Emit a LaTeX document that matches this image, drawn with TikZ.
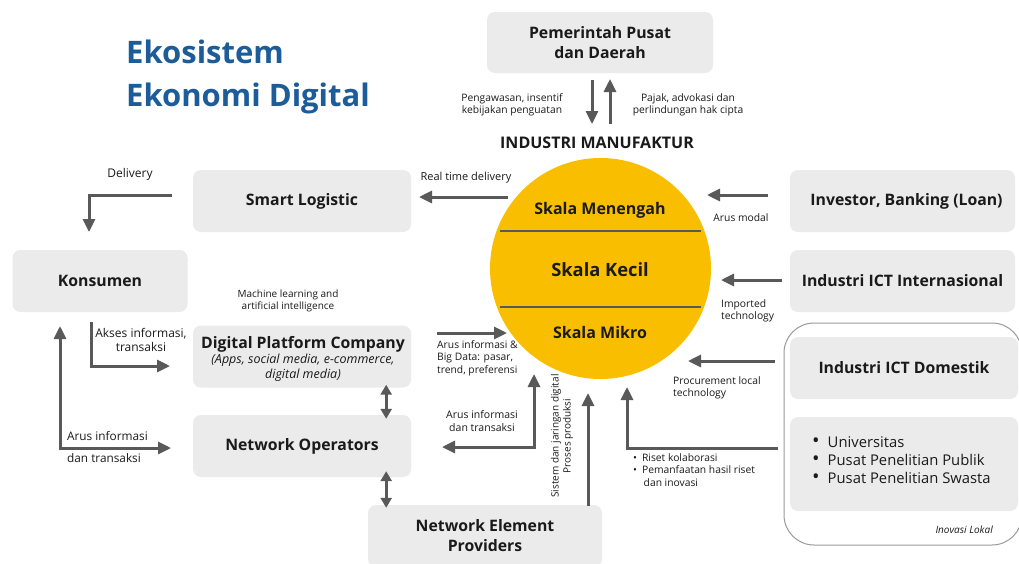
\documentclass[tikz,border=0pt]{standalone}
\usepackage{fontspec}
\setmainfont{Open Sans}
\usetikzlibrary{arrows.meta}
\definecolor{boxc}{HTML}{EBEBEB}
\definecolor{arrc}{HTML}{595959}
\definecolor{gold}{HTML}{F9BE00}
\definecolor{titlec}{HTML}{1B5C99}
\definecolor{txt}{HTML}{1A1A1A}
\definecolor{outl}{HTML}{9A9A9A}
\newcommand{\btxt}{\fontsize{15.8}{20}\selectfont\bfseries}
\newcommand{\stxt}{\fontsize{10.3}{12.5}\selectfont}
\begin{document}
\begin{tikzpicture}[x=1pt,y=-1pt,
  box/.style={fill=boxc, rounded corners=8pt, inner sep=0pt, align=center, font=\btxt, text=txt},
  lbl/.style={font=\stxt, text=txt, inner sep=0pt, align=center},
  arr/.style={draw=arrc, line width=3pt, -{Triangle[length=13pt,width=12pt]}},
  darr/.style={draw=arrc, line width=3pt, {Triangle[length=10pt,width=11pt]}-{Triangle[length=10pt,width=11pt]}},
  divline/.style={draw=arrc, line width=2.5pt}]
\useasboundingbox (0,0) rectangle (1019,563);
\fill[white] (0,0) rectangle (1019,563);

% title
\node[anchor=base west, font=\fontsize{31}{36}\selectfont\bfseries, text=titlec, inner sep=0pt] (t1) at (126,63) {Ekosistem};
\node[anchor=base west, font=\fontsize{31}{36}\selectfont\bfseries, text=titlec, inner sep=0pt] (t2) at (126,106) {Ekonomi Digital};

% boxes
\node[box, minimum width=226pt, minimum height=61pt] (pem) at (600,42.5) {Pemerintah Pusat\\dan Daerah};
\node[box, minimum width=218pt, minimum height=62pt] (sl) at (302,201) {Smart Logistic};
\node[box, minimum width=175pt, minimum height=62pt] (kon) at (100,281) {Konsumen};
\node[box, minimum width=218pt, minimum height=62pt, font=\fontsize{12.5}{15}\selectfont\itshape] (dpc) at (302,356.5) {};
\node[inner sep=0pt, align=center, text=txt, font=\fontsize{12.5}{15}\selectfont\itshape] (dpct) at (303,359)
  {{\btxt\upshape Digital Platform Company}\\[0pt](Apps, social media, e-commerce,\\digital media)};
\node[box, minimum width=218pt, minimum height=62pt] (no) at (302,446) {Network Operators};
\node[box, minimum width=234pt, minimum height=62pt] (nep) at (485,536) {Network Element\\Providers};
\node[box, minimum width=225pt, minimum height=62pt] (inv) at (902.5,201) {\hspace{8pt}Investor, Banking (Loan)};
\node[box, minimum width=225pt, minimum height=62pt] (icti) at (902.5,281) {Industri ICT Internasional};

% inovasi lokal group
\draw[outl, line width=1pt, fill=white, rounded corners=30pt] (784,323) rectangle (1022,545);
\node[box, minimum width=228pt, minimum height=62pt] (ictd) at (904,368) {Industri ICT Domestik};
\node[box, minimum width=228pt, minimum height=94pt] (univ) at (904,464) {};
\node[anchor=west, inner sep=0pt, align=left, text=txt, font=\fontsize{14.8}{18}\selectfont] (univt) at (812,460)
  {{\fontsize{20}{18}\selectfont•}\hspace{8pt}Universitas\\{\fontsize{20}{18}\selectfont•}\hspace{8pt}Pusat Penelitian Publik\\{\fontsize{20}{18}\selectfont•}\hspace{8pt}Pusat Penelitian Swasta};
\node[anchor=east, inner sep=0pt, text=txt, font=\fontsize{10}{12}\selectfont\itshape] (inol) at (993,530) {Inovasi Lokal};

% industri manufaktur
\node[inner sep=0pt, font=\fontsize{16}{19}\selectfont\bfseries, text=txt] (im) at (597,143) {INDUSTRI MANUFAKTUR};
\node[circle, fill=gold, minimum size=221pt, inner sep=0pt] (ind) at (600.5,268.5) {};
\draw[divline] (500,231) -- (701,231);
\draw[divline] (500,307) -- (701,307);
\node[inner sep=0pt, font=\fontsize{16}{19}\selectfont\bfseries, text=txt] (sm) at (600,210) {Skala Menengah};
\node[inner sep=0pt, font=\fontsize{18.3}{22}\selectfont\bfseries, text=txt] (sk) at (600,270) {Skala Kecil};
\node[inner sep=0pt, font=\fontsize{16}{19}\selectfont\bfseries, text=txt] (smi) at (600,332) {Skala Mikro};

% government arrows
\coordinate (g1a) at (592,80); \coordinate (g1b) at (592,124);
\coordinate (g2a) at (610,124); \coordinate (g2b) at (610,79);
\draw[arr] (g1a) -- (g1b);
\draw[arr] (g2a) -- (g2b);
\node[lbl] (lg1) at (512,105) {Pengawasan, insentif\\kebijakan penguatan};
\node[lbl] (lg2) at (688,105) {Pajak, advokasi dan\\perlindungan hak cipta};

% real time delivery
\coordinate (rt1) at (508,197); \coordinate (rt2) at (419,197);
\draw[arr] (rt1) -- (rt2);
\node[lbl, font=\fontsize{11}{13}\selectfont] (lrt) at (466,178) {Real time delivery};

% delivery
\coordinate (dl1) at (172,195); \coordinate (dl2) at (89,232);
\draw[arr] (dl1) -| (dl2);
\node[lbl, font=\fontsize{12}{14}\selectfont] (ldl) at (130,174) {Delivery};

% machine learning
\node[lbl, font=\fontsize{10}{12.5}\selectfont] (lml) at (288,301) {Machine learning and\\artificial intelligence};

% akses informasi
\coordinate (ak1) at (91,322); \coordinate (ak2) at (170,366);
\draw[arr] (ak1) |- (ak2);
\node[lbl, font=\fontsize{12}{14.5}\selectfont] (lak) at (141,340) {Akses informasi,\\transaksi};

% arus informasi left
\coordinate (ai1) at (60,326); \coordinate (ai2) at (171,448);
\draw[arr, {Triangle[length=13pt,width=12pt]}-{Triangle[length=13pt,width=12pt]}] (ai1) |- (ai2);
\node[lbl, anchor=base west, font=\fontsize{11.8}{14}\selectfont] (lai1) at (67,440) {Arus informasi};
\node[lbl, anchor=base west, font=\fontsize{11.8}{14}\selectfont] (lai2) at (67,462) {dan transaksi};

% double arrows
\draw[darr, shorten <=-3pt, shorten >=-4pt] ([xshift=-25pt]dpc.south east) -- ([xshift=-25pt]no.north east);
\draw[darr, shorten <=-6pt, shorten >=-3pt] ([xshift=-25pt]no.south east) -- ([xshift=-25pt]no.south east |- nep.north);

% arus informasi & big data
\coordinate (bd1) at (437,333); \coordinate (bd2) at (507,333);
\draw[arr] (bd1) -- (bd2);
\node[lbl, anchor=north west, align=left] (lbd) at (437,340) {Arus informasi \&\\Big Data: pasar,\\trend, preferensi};

% arus informasi dan transaksi (right)
\coordinate (at1) at (534,374); \coordinate (at2) at (442,447);
\draw[arr, {Triangle[length=13pt,width=12pt]}-{Triangle[length=13pt,width=12pt]}] (at1) |- (at2);
\node[lbl, font=\fontsize{10.5}{13}\selectfont] (lat) at (482,421) {Arus informasi\\dan transaksi};

% sistem dan jaringan digital
\node[lbl, rotate=90, font=\fontsize{10}{12}\selectfont] (lsj) at (562,436) {Sistem dan jaringan digital\\Proses produksi};
\coordinate (nu1) at (588,506);
\coordinate (nu2) at (588,393);
\draw[arr] (nu1) -- (nu2);

% riset
\coordinate (rs1) at (778,448); \coordinate (rs2) at (627,387);
\draw[arr] (rs1) -| (rs2);
\node[lbl, anchor=north west, align=left] (lrs) at (633,453) {•\hspace{5pt}Riset kolaborasi\\•\hspace{5pt}Pemanfaatan hasil riset\\\hspace{10.5pt}dan inovasi};

% right arrows
\coordinate (am1) at (768,195); \coordinate (am2) at (707,195);
\draw[arr] (am1) -- (am2);
\node[lbl] (lam) at (741,218) {Arus modal};
\coordinate (it1) at (782,280); \coordinate (it2) at (721,280);
\draw[arr] (it1) -- (it2);
\node[lbl, anchor=north west, align=left] (lit) at (721,299) {Imported\\technology};
\coordinate (pl1) at (775,361); \coordinate (pl2) at (688,361);
\draw[arr] (pl1) -- (pl2);
\node[lbl, anchor=north west, align=left] (lpl) at (673,376) {Procurement local\\technology};
\end{tikzpicture}
\end{document}
